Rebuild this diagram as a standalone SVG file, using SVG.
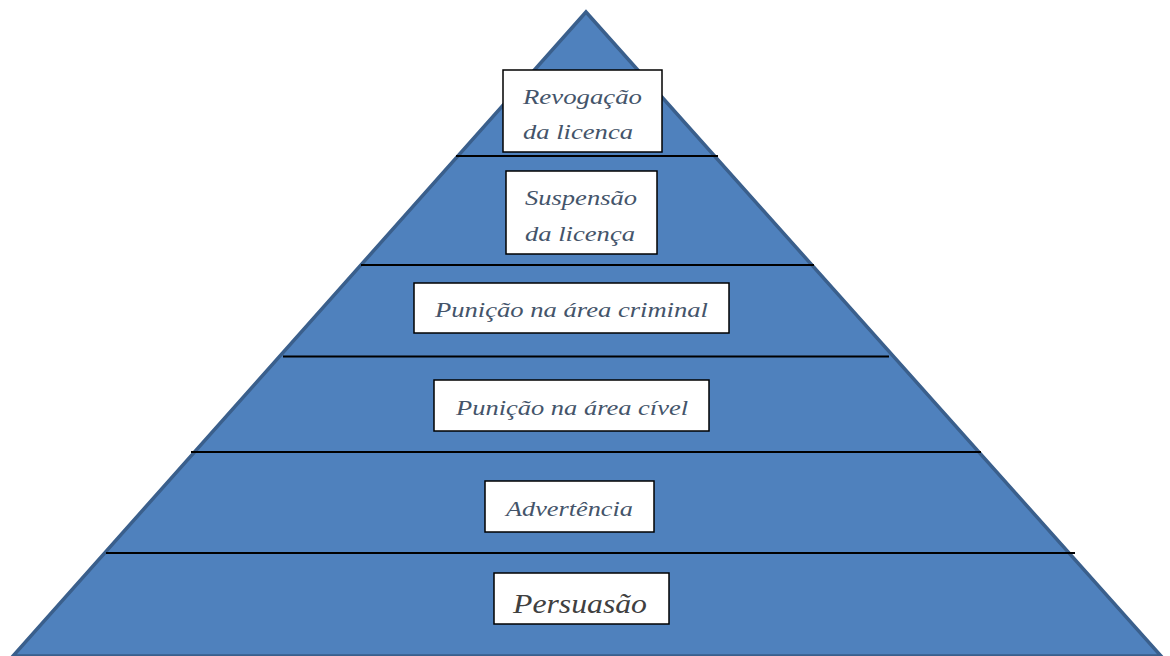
<svg xmlns="http://www.w3.org/2000/svg" width="1170" height="656" viewBox="0 0 1170 656">
  <style>
    .pyr { fill: #4F81BD; stroke: #3A5F8C; stroke-width: 3.5; stroke-linejoin: miter; }
    .div { stroke: #000; stroke-width: 2; }
    .box { fill: #fff; stroke: #000; stroke-width: 1.5; }
    .lbl { font-family: "Liberation Serif", "Times New Roman", serif; font-style: italic; font-size: 22px; fill: #44546A; text-anchor: start; }
    .big { font-size: 28px; fill: #404040; }
  </style>

  <!-- pyramid body -->
  <g id="pyramid">
    <polygon class="pyr" points="586,12 1161,656 13,656"/>
  </g>

  <!-- tier dividers -->
  <g id="connectors">
    <line class="div" x1="456" y1="156" x2="718" y2="156"/>
    <line class="div" x1="361" y1="265" x2="814" y2="265"/>
    <line class="div" x1="283" y1="356.5" x2="889" y2="356.5"/>
    <line class="div" x1="191" y1="452" x2="981" y2="452"/>
    <line class="div" x1="106" y1="553" x2="1075" y2="553"/>
  </g>

  <g id="revogacao">
    <rect class="box" x="503" y="70" width="159" height="82"/>
    <text class="lbl" x="523" y="104" textLength="119" lengthAdjust="spacingAndGlyphs">Revogação</text>
    <text class="lbl" x="523" y="139" textLength="110" lengthAdjust="spacingAndGlyphs">da licenca</text>
  </g>

  <g id="suspensao">
    <rect class="box" x="506" y="171" width="151" height="83"/>
    <text class="lbl" x="525" y="205" textLength="112" lengthAdjust="spacingAndGlyphs">Suspensão</text>
    <text class="lbl" x="525" y="241" textLength="110" lengthAdjust="spacingAndGlyphs">da licença</text>
  </g>

  <g id="criminal">
    <rect class="box" x="414" y="283" width="315" height="50"/>
    <text class="lbl" x="435" y="317" textLength="273" lengthAdjust="spacingAndGlyphs">Punição na área criminal</text>
  </g>

  <g id="civel">
    <rect class="box" x="434" y="380" width="275" height="51"/>
    <text class="lbl" x="456" y="415" textLength="232" lengthAdjust="spacingAndGlyphs">Punição na área cível</text>
  </g>

  <g id="advertencia">
    <rect class="box" x="485" y="481" width="169" height="51"/>
    <text class="lbl" x="506" y="516" textLength="127" lengthAdjust="spacingAndGlyphs">Advertência</text>
  </g>

  <g id="persuasao">
    <rect class="box" x="494" y="573" width="175" height="51"/>
    <text class="lbl big" x="513" y="613" textLength="134" lengthAdjust="spacingAndGlyphs">Persuasão</text>
  </g>
</svg>
